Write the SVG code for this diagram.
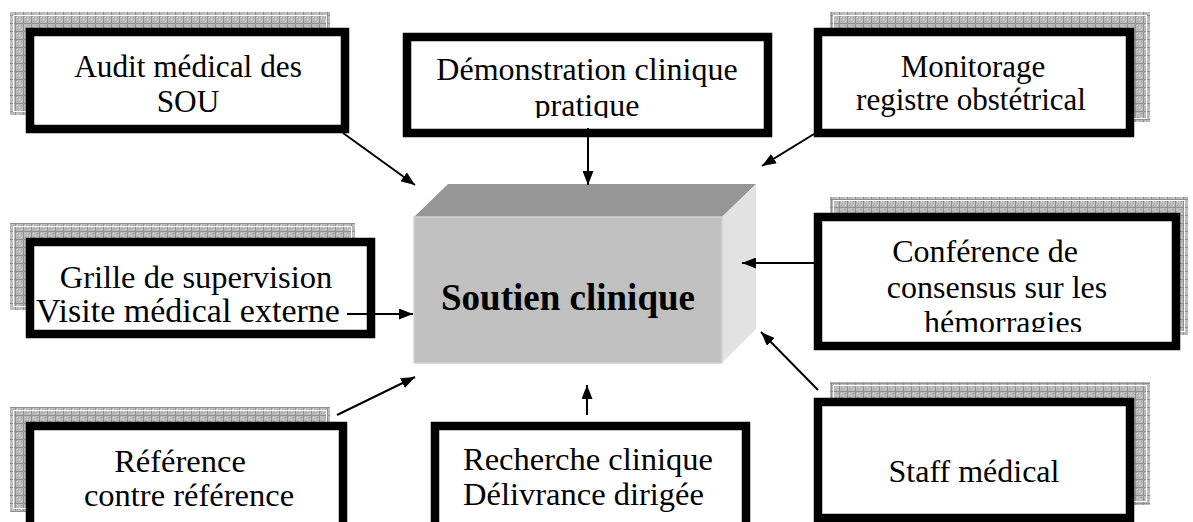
<svg xmlns="http://www.w3.org/2000/svg" width="1193" height="522" viewBox="0 0 1193 522">
<defs>
<pattern id="grid" patternUnits="userSpaceOnUse" width="8" height="8">
<rect width="8" height="8" fill="#bababa"/>
<rect x="1" y="1" width="1" height="1" fill="#d4d4d4"/>
<rect x="3" y="3" width="1" height="1" fill="#d4d4d4"/>
<rect x="5" y="5" width="1" height="1" fill="#d4d4d4"/>
<rect x="5" y="1" width="1" height="1" fill="#a4a4a4"/>
<rect x="1" y="5" width="1" height="1" fill="#a4a4a4"/>
<rect x="0" y="7" width="8" height="1" fill="#909090"/>
<rect x="7" y="0" width="1" height="8" fill="#909090"/>
</pattern>
<marker id="arr" markerUnits="userSpaceOnUse" markerWidth="14" markerHeight="11" refX="14" refY="5.5" orient="auto">
<path d="M0,0 L14,5.5 L0,11 z" fill="#000"/>
</marker>
<clipPath id="clipDemo"><rect x="412" y="41" width="351" height="77"/></clipPath>
<clipPath id="clipConf"><rect x="823" y="222" width="349" height="110"/></clipPath>
</defs>
<style>
.shadow{fill:url(#grid);}
.shin{fill:none;stroke:#ffffff;stroke-width:1;}
.box{fill:#ffffff;stroke:#000000;stroke-width:8.5;}
.t{font-family:"Liberation Serif","Times New Roman",serif;font-size:32px;fill:#000;text-anchor:middle;}
.ts{text-anchor:start;}
.c{stroke:#000;stroke-width:2;fill:none;marker-end:url(#arr);}
</style>
<rect width="1193" height="522" fill="#ffffff"/>

<g id="center">
<polygon points="414,217 448,184 756,184 722,217" fill="#969696"/>
<polygon points="722,217 756,184 756,329 722,363" fill="#e2e2e2"/>
<rect x="414" y="217" width="308" height="146" fill="#c0c0c0" stroke="#d2d2d2" stroke-width="1.5"/>
<text x="568" y="310" style="font-family:'Liberation Serif','Times New Roman',serif;font-size:37px;font-weight:bold;fill:#000;text-anchor:middle;">Soutien clinique</text>
</g>

<g id="audit">
<rect class="shadow" x="10" y="12" width="320" height="103"/>
<rect class="shin" x="13.5" y="15.5" width="313" height="96"/>
<rect class="box" x="30" y="32" width="315" height="97"/>
<text class="t" x="188" y="77" style="font-size:31.3px">Audit médical des</text>
<text class="t" x="188" y="112" style="font-size:31.3px">SOU</text>
</g>

<g id="demonstration">
<rect class="box" x="407" y="37" width="361" height="96"/>
<g clip-path="url(#clipDemo)">
<text class="t" x="587" y="80">Démonstration clinique</text>
<text class="t" x="587" y="115.5">pratique</text>
</g>
</g>

<g id="monitorage">
<rect class="shadow" x="830" y="12" width="320" height="110"/>
<rect class="shin" x="833.5" y="15.5" width="313" height="103"/>
<rect class="box" x="818" y="32" width="312" height="101"/>
<text class="t" x="973" y="77" style="font-size:31px">Monitorage</text>
<text class="t" x="971" y="110" style="font-size:31px">registre obstétrical</text>
</g>

<g id="conference">
<rect class="shadow" x="830" y="197" width="358" height="138"/>
<rect class="shin" x="833.5" y="200.5" width="351" height="131"/>
<rect class="box" x="818" y="217" width="358" height="129"/>
<g clip-path="url(#clipConf)">
<text class="t" x="985" y="262">Conférence de</text>
<text class="t" x="997" y="297.5">consensus sur les</text>
<text class="t" x="1003" y="333">hémorragies</text>
</g>
</g>

<g id="grille">
<rect class="shadow" x="10" y="223" width="345" height="87"/>
<rect class="shin" x="13.5" y="226.5" width="338" height="80"/>
<rect class="box" x="30" y="242" width="341" height="92"/>
<text class="t" x="196" y="288" style="font-size:32.5px">Grille de supervision</text>
<text class="t" x="188" y="322" style="font-size:34px">Visite médical externe</text>
</g>

<g id="reference">
<rect class="shadow" x="10" y="407" width="320" height="105"/>
<rect class="shin" x="13.5" y="410.5" width="313" height="98"/>
<rect class="box" x="30" y="426" width="313" height="110"/>
<text class="t" x="180" y="472" style="font-size:32.5px">Référence</text>
<text class="t" x="189" y="506" style="font-size:32.5px">contre référence</text>
</g>

<g id="recherche">
<rect class="box" x="435" y="426" width="311" height="110"/>
<text class="t ts" x="463" y="470" style="font-size:32.5px">Recherche clinique</text>
<text class="t ts" x="463" y="505" style="font-size:32.5px">Délivrance dirigée</text>
</g>

<g id="staff">
<rect class="shadow" x="830" y="382" width="320" height="123"/>
<rect class="shin" x="833.5" y="385.5" width="313" height="116"/>
<rect class="box" x="818" y="402" width="312" height="116"/>
<text class="t" x="974" y="482">Staff médical</text>
</g>

<g id="connectors">
<line class="c" x1="343" y1="133" x2="415" y2="185"/>
<line class="c" x1="588" y1="128" x2="588" y2="185"/>
<line class="c" x1="814" y1="134" x2="762" y2="166"/>
<line class="c" x1="814" y1="263" x2="742" y2="263"/>
<line class="c" x1="347" y1="314" x2="413" y2="314"/>
<line class="c" x1="337" y1="415" x2="415" y2="377"/>
<line class="c" x1="587" y1="415" x2="587" y2="385"/>
<line class="c" x1="818" y1="390" x2="761" y2="332"/>
</g>
</svg>
